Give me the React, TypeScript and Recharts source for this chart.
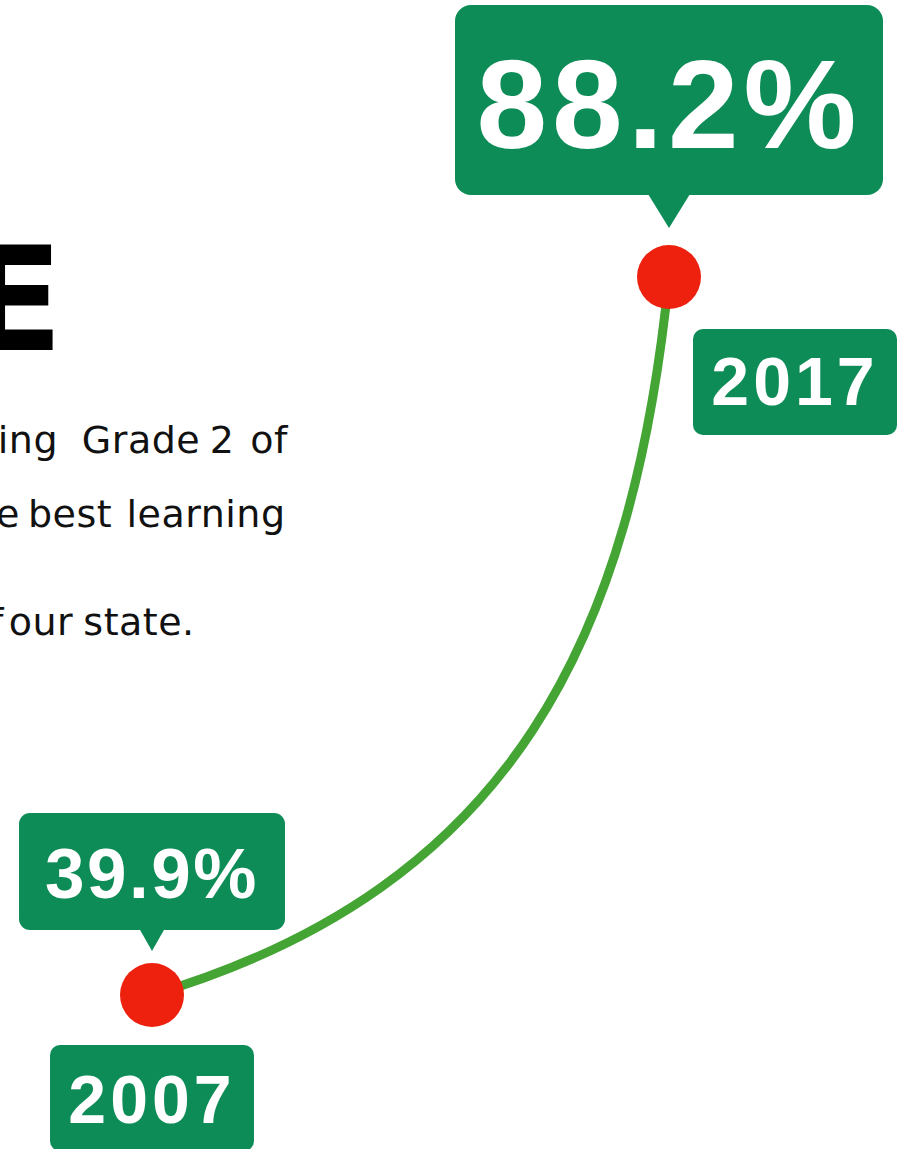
import React from 'react'
import { LineChart, Line, XAxis, YAxis, LabelList, Customized } from 'recharts'

// literacy share, start and end of the decade
const years = [2007, 2017]
const shares = [39.9, 88.2]

const data = years.map((year, i) => ({ year, share: shares[i] }))

const BOX_GREEN = '#0e8c57'
const DOT_RED = '#ee200e'
const LINE_GREEN = '#44a535'
const NUM_FONT = '"Liberation Sans", Arial, sans-serif'
const BODY_FONT = '"DejaVu Sans", sans-serif'

// callout look per point (first = small, last = headline)
const callouts = [
  { w: 266, h: 117, gap: 65, tip: 44, half: 12.5, rx: 11, size: 71, spacing: 2.5, base: 97, yearDx: 0, yearDy: 50 },
  { w: 428, h: 190, gap: 82, tip: 49, half: 21, rx: 16, size: 127, spacing: 5, base: 129, yearDx: 126, yearDy: 52 },
]

// segment bend: flat start, near vertical finish
const arcCurve = (context: any) => {
  let pts: number[][] = []
  return {
    areaStart() {},
    areaEnd() {},
    lineStart() { pts = [] },
    point(x: number, y: number) { pts.push([+x, +y]) },
    lineEnd() {
      if (!pts.length) return
      context.moveTo(pts[0][0], pts[0][1])
      for (let i = 1; i < pts.length; i++) {
        const [x0, y0] = pts[i - 1]
        const [x1, y1] = pts[i]
        const dx = x1 - x0
        const dy = y1 - y0
        context.bezierCurveTo(x0 + 0.7 * dx, y0 + 0.15 * dy, x1 - 0.07 * dx, y1 - 0.5 * dy, x1, y1)
      }
    },
  }
}

const RedDot = (props: any) => {
  const { cx, cy, index } = props
  return <circle key={`dot-${index}`} cx={cx} cy={cy} r={32} fill={DOT_RED} />
}

const ValueCallout = (props: any) => {
  const { x, y, value, index } = props
  const s = callouts[index]
  if (!s) return null
  const bottom = y - s.gap
  const top = bottom - s.h
  return (
    <g>
      <rect x={x - s.w / 2} y={top} width={s.w} height={s.h} rx={s.rx} fill={BOX_GREEN} />
      <path d={`M${x - s.half},${bottom - 1} L${x},${y - s.tip} L${x + s.half},${bottom - 1} Z`} fill={BOX_GREEN} />
      <text x={x} y={y - s.base} textAnchor="middle" fill="#fff" fontFamily={NUM_FONT} fontWeight={700}
        fontSize={s.size} letterSpacing={s.spacing}>
        {`${value}%`}
      </text>
    </g>
  )
}

const YearTag = (props: any) => {
  const { x, y, value, index } = props
  const s = callouts[index]
  if (!s) return null
  const cx = x + s.yearDx
  const top = y + s.yearDy
  return (
    <g>
      <rect x={cx - 102} y={top} width={204} height={106} rx={10} fill={BOX_GREEN} />
      <text x={cx} y={y + 128} textAnchor="middle" fill="#fff" fontFamily={NUM_FONT} fontWeight={700}
        fontSize={68} letterSpacing={4}>
        {value}
      </text>
    </g>
  )
}

// the article copy that runs off the left edge of the poster
const BodyCopy = () => (
  <g fontFamily={BODY_FONT} fill="#111">
    <text x={63} y={350} textAnchor="end" fontSize={144} fontWeight={700} fill="#000">E</text>
    <g fontSize={38} letterSpacing={0.5} textAnchor="middle">
      <text x={58} y={453} textAnchor="end">ing</text>
      <text x={141} y={453}>Grade</text>
      <text x={222} y={453}>2</text>
      <text x={269} y={453}>of</text>

      <text x={20} y={527} textAnchor="end">the</text>
      <text x={70} y={527}>best</text>
      <text x={206} y={527}>learning</text>

      <text x={4} y={635} textAnchor="end">of</text>
      <text x={41} y={635}>our</text>
      <text x={139} y={635}>state.</text>
    </g>
  </g>
)

export default function App() {
  return (
    <div style={{ position: 'absolute', left: 0, top: 0, width: 905, height: 1149, overflow: 'hidden', background: '#fff' }}>
      <LineChart width={905} height={1149} data={data} margin={{ top: 277, right: 236, bottom: 154, left: 152 }}>
        <XAxis dataKey="year" type="number" domain={[2007, 2017]} hide />
        <YAxis type="number" domain={[39.9, 88.2]} hide />
        <Customized component={BodyCopy} />
        <Line
          dataKey="share"
          type={arcCurve as any}
          stroke={LINE_GREEN}
          strokeWidth={9}
          dot={RedDot}
          activeDot={false}
          isAnimationActive={false}
        >
          <LabelList dataKey="share" content={ValueCallout} />
          <LabelList dataKey="year" content={YearTag} />
        </Line>
      </LineChart>
    </div>
  )
}
